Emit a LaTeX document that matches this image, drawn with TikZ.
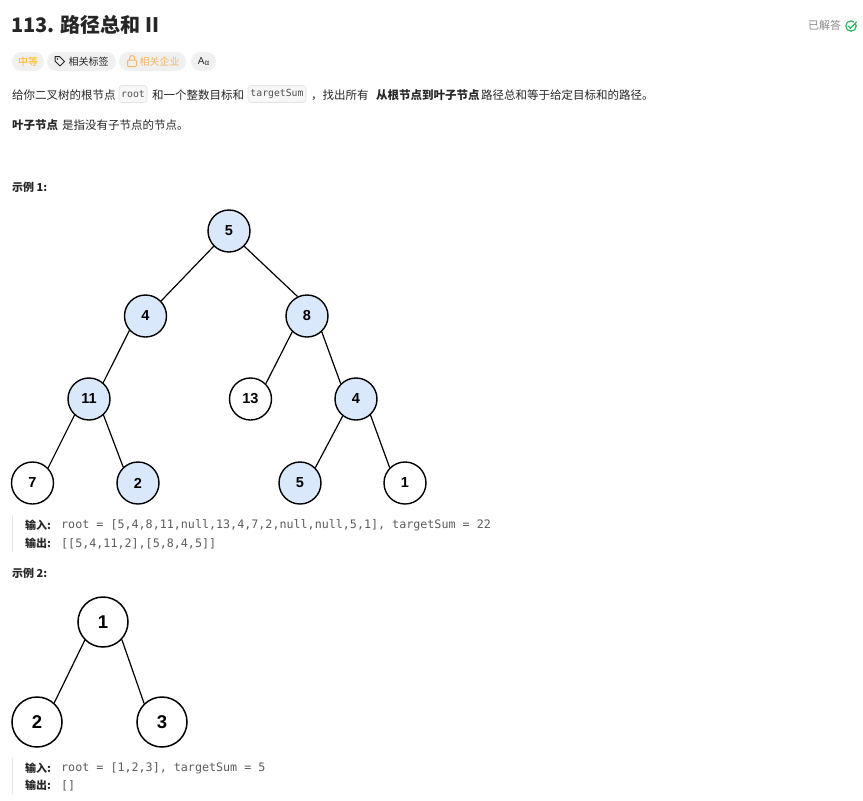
\documentclass[tikz,border=0pt]{standalone}
\usepackage{fontspec}
\setmainfont{Noto Sans CJK SC}
\setmonofont{DejaVu Sans Mono}
\newfontfamily\arialf{Liberation Sans}
\definecolor{txt}{HTML}{262626}
\definecolor{codegray}{HTML}{5C5C5C}
\definecolor{pillbg}{HTML}{F0F0F0}
\definecolor{easyor}{HTML}{FFB800}
\definecolor{compor}{HTML}{F2B864}
\definecolor{solved}{HTML}{8C8C8C}
\definecolor{okgreen}{HTML}{2DB55D}
\definecolor{nodeblue}{HTML}{DAE8FC}
\definecolor{inlinebg}{HTML}{F7F7F7}
\definecolor{inlinebd}{HTML}{E3E3E3}
\definecolor{barcol}{HTML}{E5E5E5}
\begin{document}
\begin{tikzpicture}[x=1pt,y=-1pt,
  lbl/.style={anchor=west,inner sep=0pt,text=txt,font=\fontsize{11.5}{13}\selectfont},
  blbl/.style={lbl,font=\fontsize{11.5}{13}\selectfont\bfseries},
  codetxt/.style={anchor=west,inner sep=0pt,text=codegray,font=\ttfamily\fontsize{11.7}{13}\selectfont},
  pill/.style={rounded corners=9.5pt,fill=pillbg,draw=none,minimum height=19pt,inner sep=0pt,font=\fontsize{10}{12}\selectfont},
  inl/.style={rounded corners=3pt,fill=inlinebg,draw=inlinebd,line width=0.6pt,minimum height=17pt,inner sep=0pt,text=txt!80,font=\ttfamily\fontsize{9.8}{11}\selectfont},
  tn/.style={circle,draw=black,line width=1.4pt,minimum size=42pt,inner sep=0pt,font=\arialf\bfseries\fontsize{14.5}{16}\selectfont},
  tnb/.style={tn,fill=nodeblue},
  tnw/.style={tn,fill=white},
  tbig/.style={circle,draw=black,line width=1.5pt,fill=white,minimum size=50pt,inner sep=0pt,font=\arialf\bfseries\fontsize{18.5}{20}\selectfont},
  edge/.style={line width=1.2pt,draw=black}
]
\useasboundingbox (0,0) rectangle (863,801);
\fill[white] (0,0) rectangle (863,801);

% title
\node[anchor=west,inner sep=0pt,text=txt,font=\fontsize{20}{22}\selectfont\bfseries] (title) at (11,25) {113. 路径总和 II};
\node[anchor=west,inner sep=0pt,text=solved,font=\fontsize{11}{13}\selectfont] (solvedt) at (808,25.5) {已解答};
\coordinate (chk) at (851,26);
\draw[okgreen,line width=1.2pt] (chk) circle[radius=5.2];
\fill[white] (853.5,19.5) rectangle (858.5,24);
\draw[okgreen,line width=1.2pt,line cap=round,line join=round] (848.3,26) -- (850.5,28.3) -- (856.5,22);

% pills
\node[pill,minimum width=32pt,text=easyor] (p1) at (28,61.5) {中等};
\node[pill,minimum width=69pt,text=txt] (p2) at (81.5,61.5) {\hspace*{14pt}相关标签};
\draw[txt,line width=1pt,line join=round] (55,56.5) -- (59.5,56.5) -- (64.5,61.5) -- (60,66) -- (55,61) -- cycle;
\fill[txt] (57.5,59) circle[radius=0.9];
\node[pill,minimum width=67pt,text=compor] (p3) at (152.5,61.5) {\hspace*{14pt}相关企业};
\draw[compor,line width=1pt,rounded corners=1pt] (127.5,60) rectangle (136.5,66.5);
\draw[compor,line width=1pt] (129.5,60) -- (129.5,58) arc[start angle=180,end angle=360,radius=2.5] -- (134.5,60);
\node[pill,minimum width=25pt,text=txt] (p4) at (203.5,61.5) {\arialf\fontsize{10}{12}\selectfont A\raisebox{-1.2pt}{\fontsize{8}{9}\selectfont α}};

% description
\node[lbl] (d1) at (12,95) {给你二叉树的根节点};
\node[inl,minimum width=28pt] (c1) at (133,94) {root};
\node[lbl] (d2) at (152,95) {和一个整数目标和};
\node[inl,minimum width=58pt] (c2) at (277,94) {targetSum};
\node[lbl] (d3) at (311,95) {，找出所有};
\node[blbl] (d4) at (376,95) {从根节点到叶子节点};
\node[lbl] (d5) at (481,95) {路径总和等于给定目标和的路径。};
\node[blbl] (e1) at (12,125) {叶子节点};
\node[lbl] (e2) at (62,125) {是指没有子节点的节点。};

% example 1
\node[blbl,font=\fontsize{11}{13}\selectfont\bfseries] (ex1) at (12,187) {示例 1:};

\node[tnb] (a) at (229,231) {5};
\node[tnb] (b) at (145.5,316) {4};
\node[tnb] (c) at (307,316) {8};
\node[tnb] (d) at (89,399) {11};
\node[tnw] (e) at (250.5,399) {13};
\node[tnb] (f) at (356,399) {4};
\node[tnw] (g) at (32.5,483) {7};
\node[tnb] (h) at (138,483) {2};
\node[tnb] (i) at (300,483) {5};
\node[tnw] (j) at (405,483) {1};

\draw[edge] (a.225) -- (b.44);
\draw[edge] (a.315) -- (c.116);
\draw[edge] (b.222) -- (d.49);
\draw[edge] (c.227) -- (e.45);
\draw[edge] (c.313) -- (f.135);
\draw[edge] (d.228) -- (g.44);
\draw[edge] (d.312) -- (h.133);
\draw[edge] (f.232) -- (i.45);
\draw[edge] (f.312) -- (j.135);

% code 1
\draw[barcol,line width=1.5pt] (12.5,515) coordinate (bar1a) -- (12.5,552) coordinate (bar1b);
\node[blbl,font=\fontsize{11}{13}\selectfont\bfseries] (in1) at (25,525.5) {输入:};
\node[codetxt] (in1c) at (61,525.5) {root = [5,4,8,11,null,13,4,7,2,null,null,5,1], targetSum = 22};
\node[blbl,font=\fontsize{11}{13}\selectfont\bfseries] (out1) at (25,543.5) {输出:};
\node[codetxt] (out1c) at (61,543.5) {[[5,4,11,2],[5,8,4,5]]};

% example 2
\node[blbl,font=\fontsize{11}{13}\selectfont\bfseries] (ex2) at (12,573.5) {示例 2:};
\node[tbig] (r) at (103,622) {1};
\node[tbig] (s) at (37,722) {2};
\node[tbig] (t) at (162,722) {3};
\draw[edge] (r.225) -- (s.48);
\draw[edge] (r.317) -- (t.134);

% code 2
\draw[barcol,line width=1.5pt] (12.5,758) coordinate (bar2a) -- (12.5,794) coordinate (bar2b);
\node[blbl,font=\fontsize{11}{13}\selectfont\bfseries] (in2) at (25,768) {输入:};
\node[codetxt] (in2c) at (61,768) {root = [1,2,3], targetSum = 5};
\node[blbl,font=\fontsize{11}{13}\selectfont\bfseries] (out2) at (25,785.5) {输出:};
\node[codetxt] (out2c) at (61,785.5) {[]};
\end{tikzpicture}
\end{document}
